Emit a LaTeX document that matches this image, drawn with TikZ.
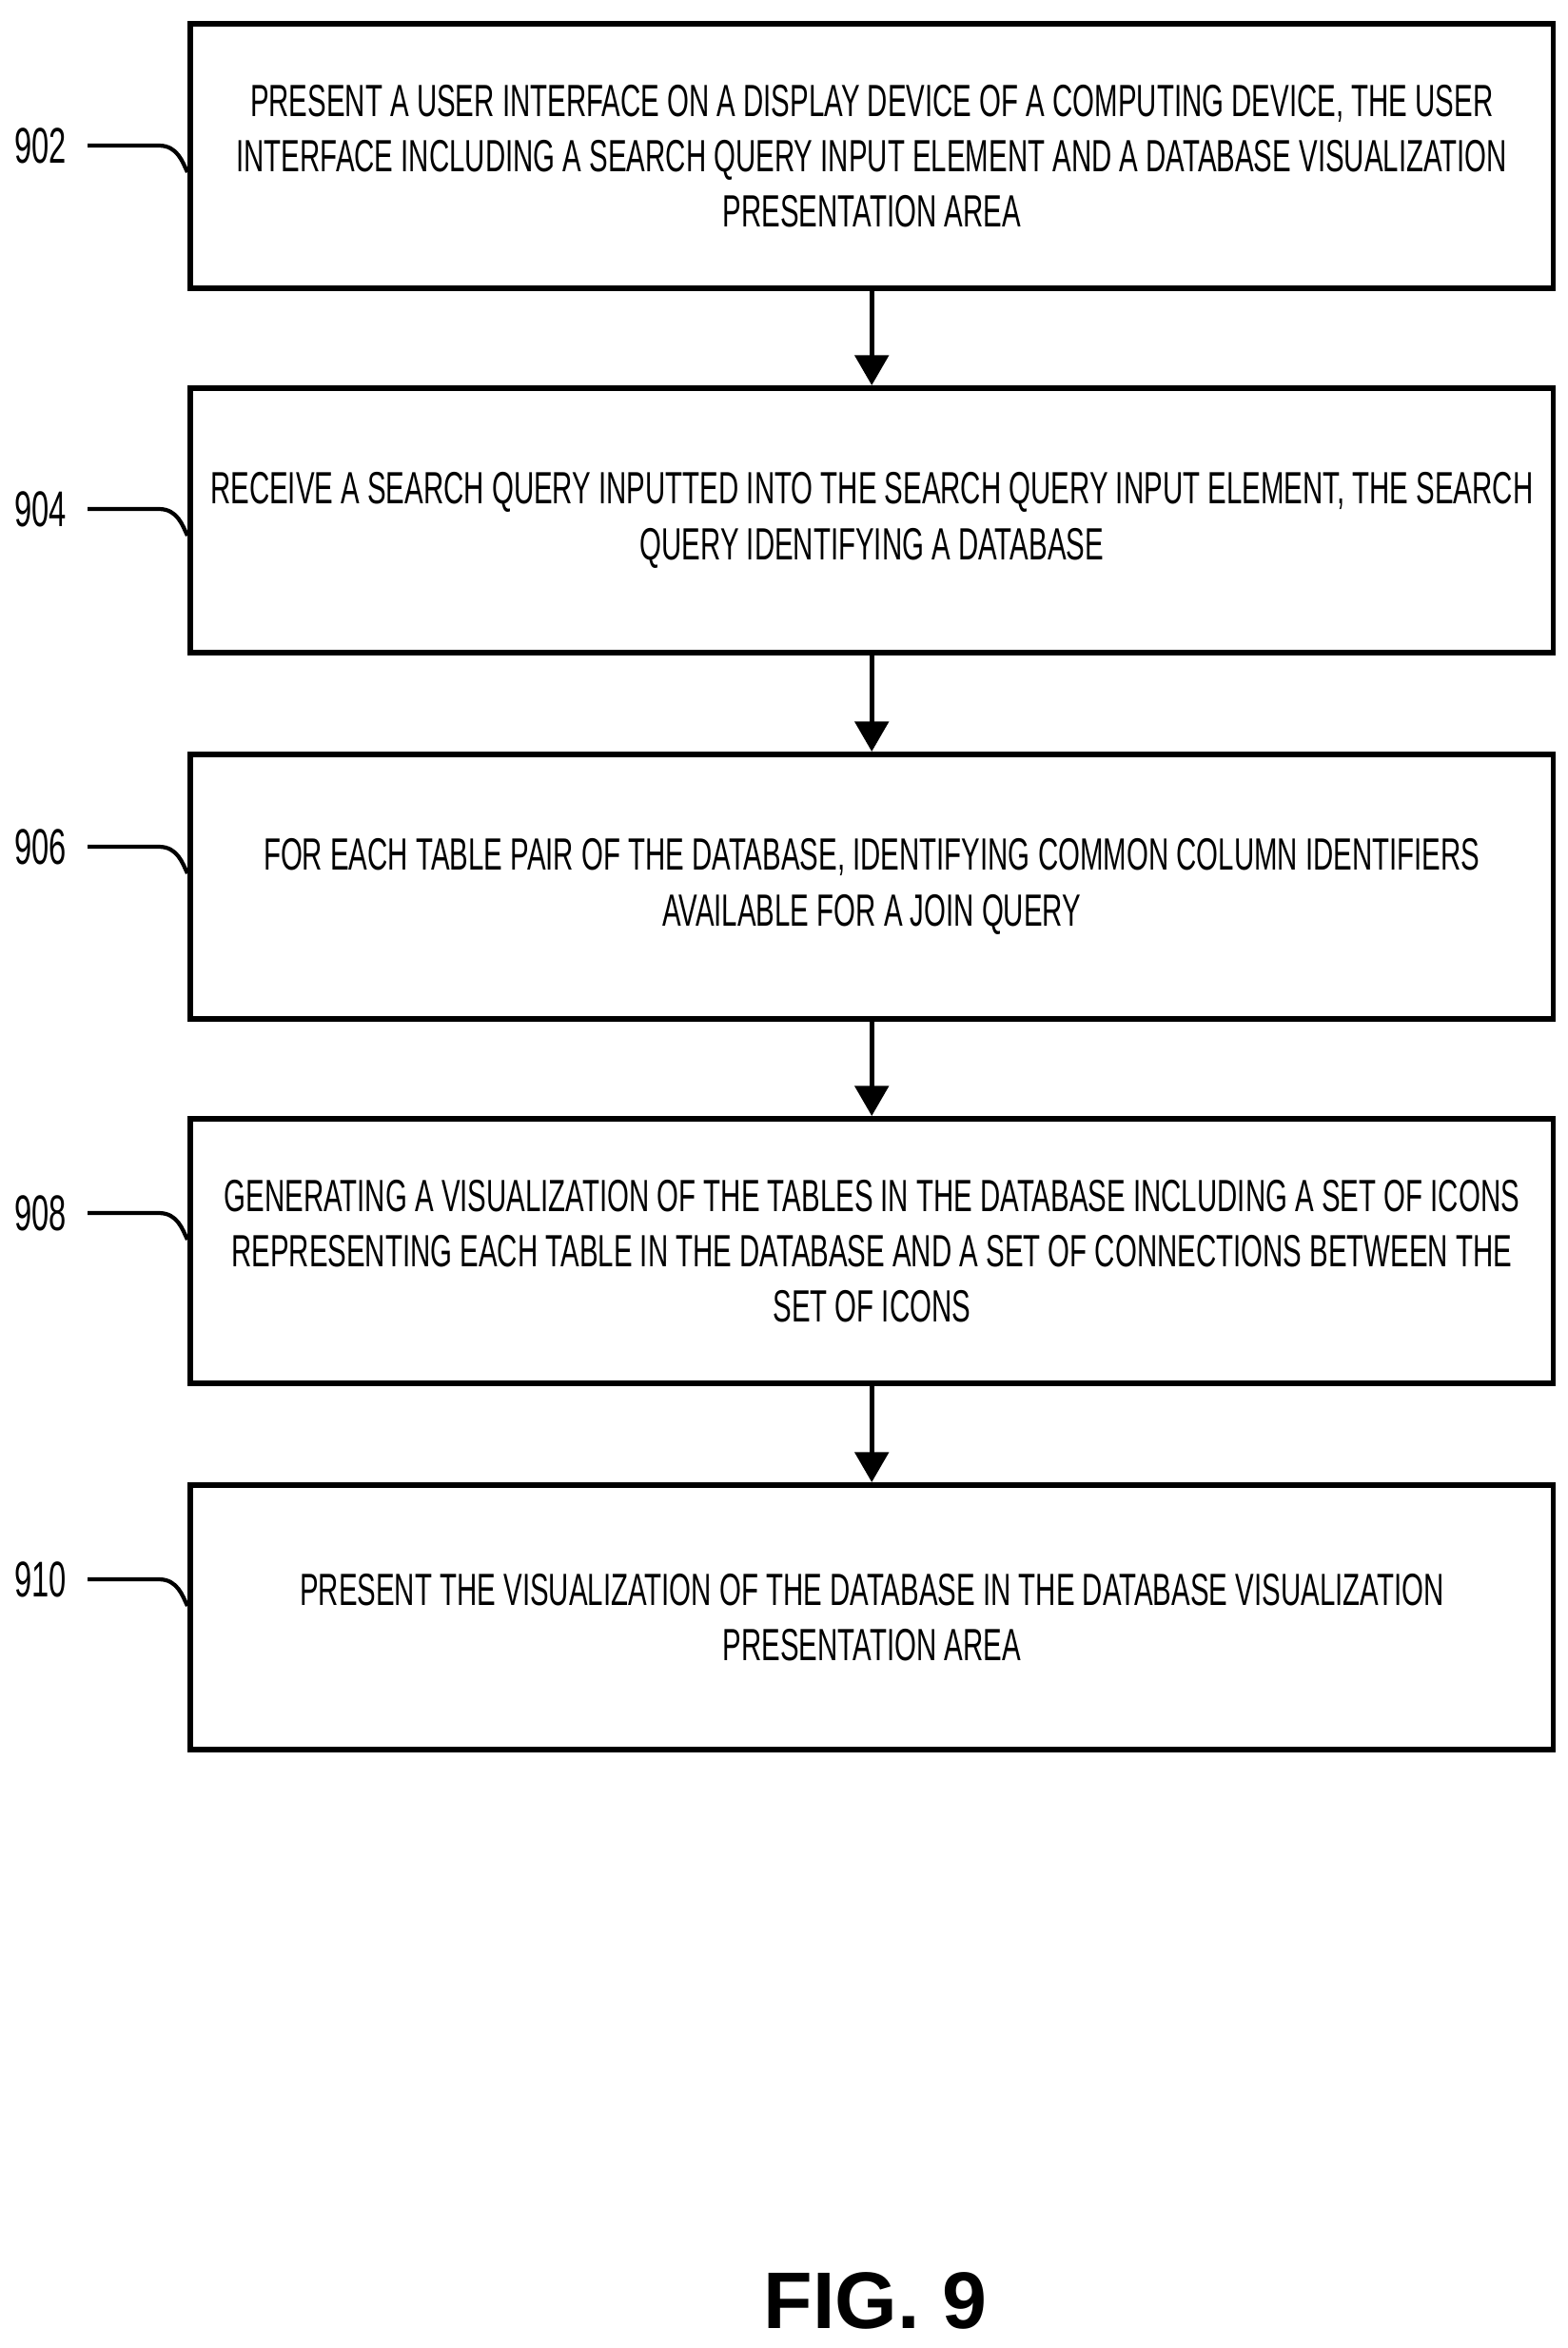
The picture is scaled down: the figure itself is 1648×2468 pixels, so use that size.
\documentclass[tikz,border=0pt]{standalone}
\usepackage{fontspec}
\setmainfont{Liberation Sans}
\newfontfamily\condf[FakeStretch=0.62]{Liberation Sans}
\usetikzlibrary{arrows.meta}
\begin{document}
\begin{tikzpicture}[x=0.01cm,y=-0.01cm,
  stepbox/.style={draw,line width=1.6pt,minimum width=14.32cm,minimum height=2.78cm,anchor=north west,inner sep=0pt,align=center,font=\condf\fontsize{13.5}{16.5}\selectfont},
  lab/.style={font=\condf\fontsize{15}{18}\selectfont},
  arr/.style={line width=1.4pt,-{Triangle[length=9pt,width=10pt]}},
  lead/.style={line width=1.2pt}]
\useasboundingbox (0,0) rectangle (1648,2468);
\node[stepbox] (b1) at (197,22) {PRESENT A USER INTERFACE ON A DISPLAY DEVICE OF A COMPUTING DEVICE, THE USER\\INTERFACE INCLUDING A SEARCH QUERY INPUT ELEMENT AND A DATABASE VISUALIZATION\\PRESENTATION AREA};
\node[stepbox] (b2) at (197,405) {RECEIVE A SEARCH QUERY INPUTTED INTO THE SEARCH QUERY INPUT ELEMENT, THE SEARCH\\QUERY IDENTIFYING A DATABASE};
\node[stepbox] (b3) at (197,790) {FOR EACH TABLE PAIR OF THE DATABASE, IDENTIFYING COMMON COLUMN IDENTIFIERS\\AVAILABLE FOR A JOIN QUERY};
\node[stepbox] (b4) at (197,1173) {GENERATING A VISUALIZATION OF THE TABLES IN THE DATABASE INCLUDING A SET OF ICONS\\REPRESENTING EACH TABLE IN THE DATABASE AND A SET OF CONNECTIONS BETWEEN THE\\SET OF ICONS};
\node[stepbox] (b5) at (197,1558) {PRESENT THE VISUALIZATION OF THE DATABASE IN THE DATABASE VISUALIZATION\\PRESENTATION AREA};
\draw[arr] (b1) -- (b2);
\draw[arr] (b2) -- (b3);
\draw[arr] (b3) -- (b4);
\draw[arr] (b4) -- (b5);
\foreach \n/\t/\y in {l1/902/153, l2/904/535, l3/906/890, l4/908/1275, l5/910/1660}{
  \node[lab,anchor=east] (\n) at (82,\y) {\t};
}
\foreach \n/\b/\y in {l1/b1/153, l2/b2/535, l3/b3/890, l4/b4/1275, l5/b5/1660}{
  \coordinate (c\n) at (197,\y+28);
  \draw[lead] (\n.east) ++(10,0) -- ++(75,0) .. controls ++(20,0) and ++(-5,-10) .. (c\n);
}
\node[font=\bfseries\fontsize{24}{28}\selectfont] (fig) at (920,2418) {FIG. 9};
\end{tikzpicture}
\end{document}
